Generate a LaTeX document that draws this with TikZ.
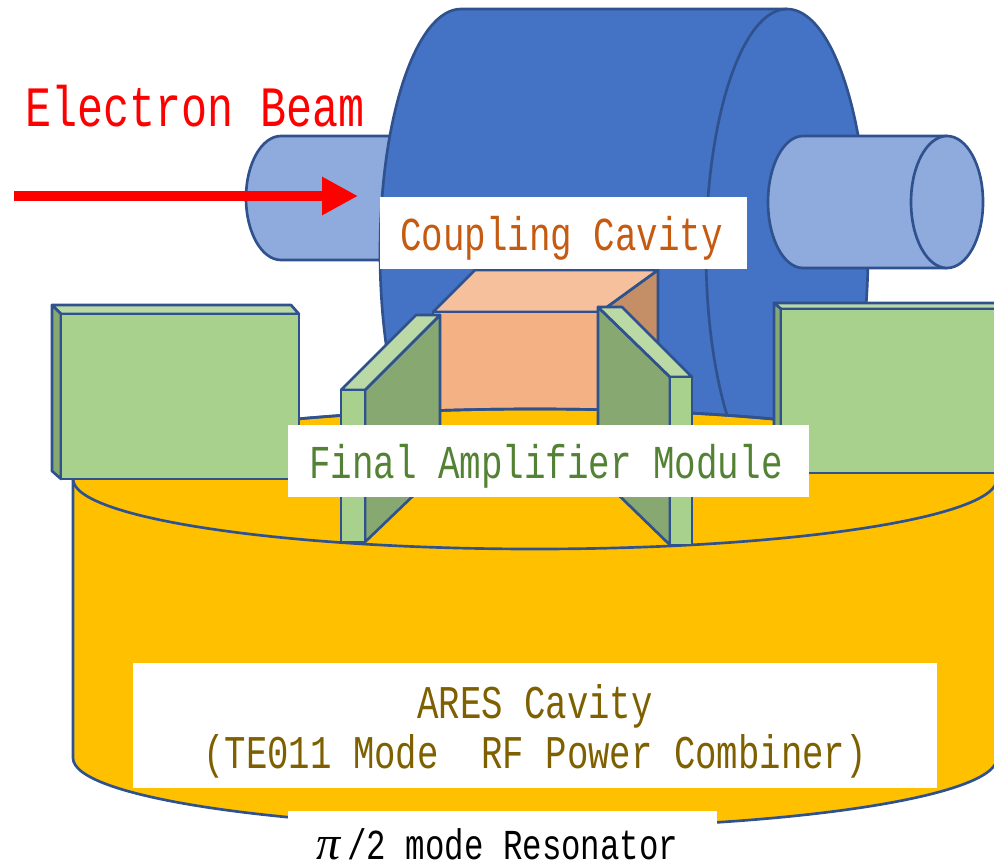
\documentclass[tikz,border=0pt]{standalone}
\usepackage{fontspec}
\newfontfamily\gothic[FakeStretch=0.76]{Liberation Mono}
\newfontfamily\pifont{Liberation Serif}
\usetikzlibrary{arrows.meta}
\definecolor{edgeblue}{HTML}{2F528F}
\definecolor{cavblue}{HTML}{4472C4}
\definecolor{pipeblue}{HTML}{8FAADC}
\definecolor{copperfront}{HTML}{F4B183}
\definecolor{coppertop}{HTML}{F6C09D}
\definecolor{copperside}{HTML}{C48E66}
\definecolor{modfront}{HTML}{A9D18E}
\definecolor{modtop}{HTML}{BAD9A5}
\definecolor{modside}{HTML}{87A971}
\definecolor{aresyellow}{HTML}{FFC000}
\definecolor{couplingtext}{HTML}{C55A11}
\definecolor{moduletext}{HTML}{548235}
\definecolor{arestext}{HTML}{7F6000}
\tikzset{
  solid part/.style={draw=edgeblue, line width=2pt, line join=round},
  strip/.style={fill=white, inner sep=0pt, align=center, font=\gothic\fontsize{35.4}{37.5}\selectfont},
  beam/.style={-{Triangle[length=27pt,width=27pt]}, red, line width=8pt},
}

\begin{document}
\begin{tikzpicture}[x=0.75pt, y=-0.75pt]
  \useasboundingbox (0,0) rectangle (994,864);
  % left pipe
  \draw[solid part, fill=pipeblue] (281,136) -- (420,136) -- (420,260) -- (281,260)
    arc[start angle=90, end angle=270, x radius=35, y radius=62];
  % coupling cavity
  \draw[solid part, fill=cavblue] (461,9) -- (787,9)
    arc[start angle=-90, end angle=90, x radius=81, y radius=243] -- (461,495)
    arc[start angle=90, end angle=270, x radius=81, y radius=243] -- cycle;
  \draw[solid part] (787,9) arc[start angle=270, end angle=90, x radius=81, y radius=243];
  % right pipe
  \draw[solid part, fill=pipeblue] (803,136) -- (947,136) -- (947,268) -- (803,268)
    arc[start angle=90, end angle=270, x radius=35, y radius=66];
  \draw[solid part, fill=pipeblue] (947,202) ellipse[x radius=36, y radius=66];
  % copper box
  \draw[solid part, fill=copperside] (600,312) -- (658,270) -- (658,400) -- (600,440) -- cycle;
  \draw[solid part, fill=coppertop] (433,312) -- (475,270) -- (658,270) -- (600,312) -- cycle;
  \draw[solid part, fill=copperfront] (433,312) rectangle (600,440);
  % ARES cavity
  \draw[solid part, fill=aresyellow] (73,479) -- (73,758)
    arc[start angle=180, end angle=0, x radius=462, y radius=70] -- (997,479)
    arc[start angle=0, end angle=-180, x radius=462, y radius=70] -- cycle;
  \draw[solid part] (535,479) ellipse[x radius=462, y radius=70];
  % left module box
  \draw[solid part, fill=modtop] (52,305) -- (291,305) -- (299,314) -- (61,314) -- cycle;
  \draw[solid part, fill=modside] (52,305) -- (61,314) -- (61,479) -- (52,471) -- cycle;
  \draw[solid part, fill=modfront] (61,314) rectangle (299,479);
  % right module box
  \draw[solid part, fill=modtop] (774,303) -- (1000,303) -- (1000,309) -- (781,309) -- cycle;
  \draw[solid part, fill=modside] (774,303) -- (781,309) -- (781,473) -- (774,466) -- cycle;
  \draw[solid part, fill=modfront] (781,309) rectangle (1000,473);
  % left plate
  \draw[solid part, fill=modside] (365,390) -- (440,315) -- (440,470) -- (365,542) -- cycle;
  \draw[solid part, fill=modtop] (341,390) -- (416,315) -- (440,315) -- (365,390) -- cycle;
  \draw[solid part, fill=modfront] (341,390) rectangle (365,542);
  % right plate
  \draw[solid part, fill=modside] (598,307) -- (670,377) -- (670,545) -- (598,475) -- cycle;
  \draw[solid part, fill=modtop] (598,307) -- (622,307) -- (692,377) -- (670,377) -- cycle;
  \draw[solid part, fill=modfront] (670,377) rectangle (692,545);
  % labels
  \node[strip, text=couplingtext, minimum width=275.25pt, text height=39.75pt, text depth=14.25pt, anchor=north] (coupling) at (563.5,197) {Coupling Cavity\hspace*{3pt}};
  \node[strip, text=moduletext, minimum width=390.75pt, text height=39.75pt, text depth=14.25pt, anchor=north] (module) at (548.5,425) {Final Amplifier Module\hspace*{4pt}};
  \node[strip, text=arestext, minimum width=603pt, minimum height=93.75pt, font=\gothic\fontsize{35.2}{37.5}\selectfont] (ares) at (535,725.5) {\rule{0pt}{34pt}ARES Cavity\\(TE011 Mode\ \ RF Power Combiner)};
  \node[strip, text=black, minimum width=321.75pt, text height=36pt, text depth=3.75pt, anchor=north, font=\gothic\fontsize{32}{37}\selectfont] (resonator) at (502.5,811) {{\pifont\itshape\fontsize{36}{37}\selectfont π}\hspace{5pt}/2 mode Resonator\hspace*{7.5pt}};
  \node[text=red, inner sep=0pt, font=\gothic\fontsize{42.8}{45}\selectfont] (beamlabel) at (195,106) {Electron Beam};
  % beam arrow
  \coordinate (beamstart) at (14,196);
  \coordinate (beamend) at (358,196);
  \draw[beam] (beamstart) -- (beamend);
\end{tikzpicture}
\end{document}
